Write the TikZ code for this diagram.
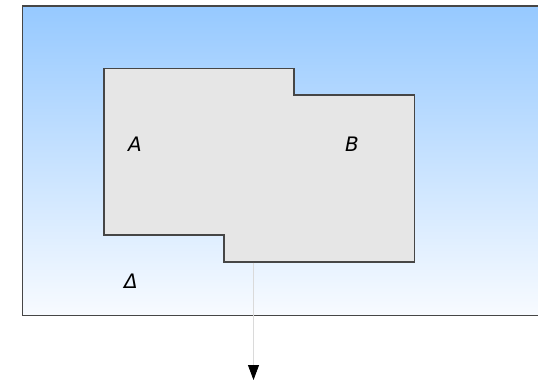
\documentclass[tikz,border=0pt]{standalone}
\usepackage{fontspec}
\setsansfont{DejaVu Sans}
\usetikzlibrary{arrows.meta}
\definecolor{skytop}{RGB}{150,201,255}
\definecolor{skybot}{RGB}{248,251,255}
\definecolor{shapefill}{RGB}{230,230,230}
\definecolor{edge}{RGB}{70,70,70}
\definecolor{conn}{RGB}{218,218,218}
\tikzset{
  lbl/.style={font=\sffamily\itshape\fontsize{20}{22}\selectfont, inner sep=0pt, text=black},
  frame/.style={draw=edge, line width=1.1bp},
}
\begin{document}
\begin{tikzpicture}[x=1bp,y=-1bp]
\clip (0,0) rectangle (538,385);
\fill[white] (0,0) rectangle (538,385);
\shade[top color=skytop, bottom color=skybot] (22.5,6) rectangle (545,315.5);
\draw[frame] (22.5,6) rectangle (545,315.5);
\draw[frame, fill=shapefill] (104,68.5) -- (294,68.5) -- (294,95) -- (414.5,95) -- (414.5,262) -- (224,262) -- (224,235) -- (104,235) -- cycle;
\node[lbl] (a) at (135,144) {A};
\node[lbl] (b) at (352,144) {B};
\node[lbl] (d) at (131,281) {Δ};
\coordinate (src) at (253.5,262.5);
\coordinate (dst) at (253.5,380);
\draw[conn, line width=0.8bp, -{Triangle[length=15bp, width=11bp, color=black]}] (src) -- (dst);
\end{tikzpicture}
\end{document}
